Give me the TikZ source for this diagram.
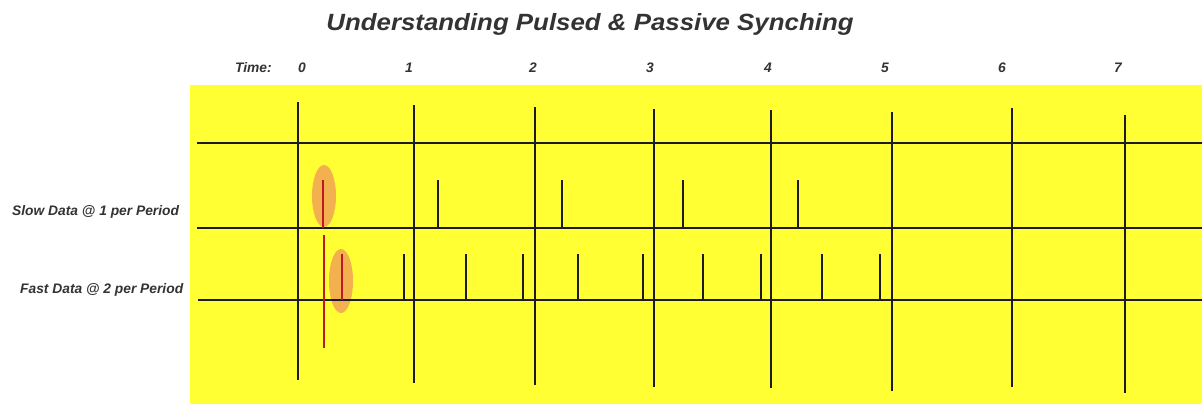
\documentclass[tikz,border=0pt]{standalone}
\usepackage{fontspec}
\setmainfont{Liberation Sans}
\definecolor{bgyellow}{RGB}{255,255,51}
\definecolor{ink}{RGB}{28,26,40}
\definecolor{txt}{RGB}{51,51,51}
\definecolor{halo}{RGB}{242,176,78}
\definecolor{pulse}{RGB}{190,25,35}
\begin{document}
\begin{tikzpicture}[x=1pt,y=-1pt,
  gridline/.style={ink,line width=1.6pt},
  spike/.style={ink,line width=1.4pt},
  redspike/.style={pulse,line width=1.4pt},
  haloshape/.style={fill=halo,draw=none},
  lbl/.style={font=\bfseries\itshape\fontsize{13.8}{16}\selectfont,text=txt,inner sep=0pt},
  ttl/.style={font=\bfseries\itshape\fontsize{23.5}{27}\selectfont,text=txt,inner sep=0pt}]
\useasboundingbox[fill=white] (0,0) rectangle (1202,404);
% title
\node[ttl,anchor=base] (title) at (590,31) {\scalebox{1.1}[1]{Understanding Pulsed \& Passive Synching}};
% time labels
\node[lbl,anchor=base west] (timelbl) at (235,72.5) {Time:};
\foreach \t/\x in {0/302,1/409,2/533,3/650,4/768,5/885,6/1002,7/1118}
  \node[lbl,anchor=base] (t\t) at (\x,72.5) {\t};
% side labels
\node[lbl,anchor=base west] (slow) at (12,215.5) {Slow Data @ 1 per Period};
\node[lbl,anchor=base west] (fast) at (20,293.5) {Fast Data @ 2 per Period};
% yellow panel
\fill[bgyellow] (190,85) rectangle (1202,404);
% highlight halos
\fill[haloshape] (324,196) ellipse [x radius=12, y radius=31];
\fill[haloshape] (341,281) ellipse [x radius=12, y radius=32];
% horizontal lines
\draw[gridline] (197,143) -- (1202,143);
\draw[gridline] (197,228) -- (1202,228);
\draw[gridline] (198,300) -- (1202,300);
% period lines
\foreach \x/\a/\b in {298/102/380,414/105/383,535/107/385,654/109/387,771/110/388,892/112/391,1012/108/387,1125/115/393}
  \draw[gridline] (\x,\a) -- (\x,\b);
% slow data spikes
\foreach \x in {438,562,683,798}
  \draw[spike] (\x,180) -- (\x,228);
\draw[redspike] (323,180) -- (323,228);
% fast data spikes
\foreach \x in {404,466,523,578,643,703,761,822,880}
  \draw[spike] (\x,254) -- (\x,300);
\draw[redspike] (342,254) -- (342,300);
% red sync line
\draw[redspike] (324,235) -- (324,348);
\end{tikzpicture}
\end{document}
